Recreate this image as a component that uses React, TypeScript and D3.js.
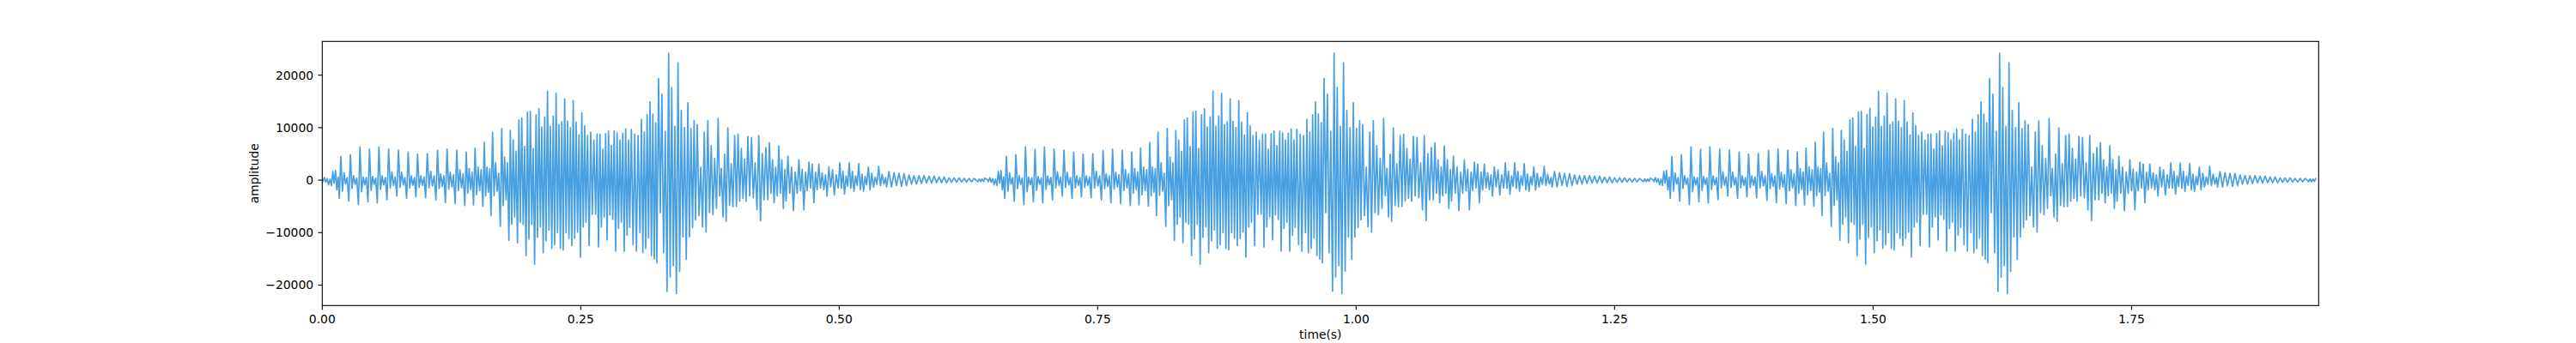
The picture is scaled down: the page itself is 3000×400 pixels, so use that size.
import React from 'react';
import * as d3 from 'd3';

// ---- data ----
const CLIP_SECONDS = 0.6437; // one utterance, repeated three times
const REPEATS = 3;
const X_MAX = 1.931;
const Y_MIN = -23890;
const Y_MAX = 26430;
const xTicks = [0, 0.25, 0.5, 0.75, 1.0, 1.25, 1.5, 1.75];
const yTicks = [-20000, -10000, 0, 10000, 20000];

// glottal pulse times within one clip (ms)
const pulseMs = [
  2.0, 10.2, 18.0, 27.2, 36.5, 45.7, 54.8, 64.2, 73.7, 83.1, 92.2, 101.6, 111.5, 120.7,
  130.1, 139.3, 147.8, 156.7, 164.7, 173.6, 181.9, 190.2, 198.5, 206.8, 215.1, 223.4,
  231.7, 240.0, 248.3, 256.6, 265.8, 274.1, 282.4, 290.7, 299.0, 308.7, 317.0, 325.3,
  335.0, 344.1, 353.6, 362.7, 372.9, 382.9, 392.3, 402.2, 411.7, 422.2, 432.5, 441.6,
  450.4, 461.0, 470.7, 480.3, 490.0, 500.6, 509.7, 518.9, 528.2, 538.2, 548.2, 562.7,
  577.2, 591.8, 606.3, 620.8, 635.4,
];

// extremes inside each pulse: [lo1, hi1, lo2, hi2, lo3, hi3]
const pulseAmps: number[][] = [
  [-300, 500, -400, 300, -900, 200],
  [-1030, 1690, -600, 1850, -1850, 600],
  [-3480, 4520, -2120, 1400, -760, 500],
  [-4030, 4840, -1600, 870, -800, 400],
  [-4680, 6310, -2230, 600, -900, 500],
  [-4140, 5880, -1960, 700, -800, 400],
  [-4350, 6310, -1800, 800, -900, 500],
  [-3750, 5930, -1500, 1600, -1000, 600],
  [-3050, 5710, -1400, 1500, -900, 500],
  [-3480, 5330, -1500, 800, -1000, 500],
  [-3210, 4950, -1400, 800, -1000, 600],
  [-3370, 5060, -1500, 1690, -1100, 800],
  [-3810, 5660, -1600, 1200, -1200, 800],
  [-4300, 5930, -1700, 1500, -1300, 1000],
  [-4460, 5710, -2000, 2000, -1500, 1200],
  [-4840, 5330, -2500, 2200, -1800, 1500],
  [-4730, 6100, -2800, 2500, -2000, 2000],
  [-4950, 7180, -3000, 2500, -2300, 2200],
  [-6750, 9140, -2940, 3320, -2120, 1300],
  [-8820, 9850, -4840, 4410, -3750, 3320],
  [-11480, 9470, -8380, 7670, -7020, 5500],
  [-11920, 11480, -8000, 11860, -8380, 6420],
  [-14370, 13000, -11210, 13100, -8380, 6040],
  [-16000, 12460, -10880, 13650, -8930, 10120],
  [-13820, 12030, -11540, 16930, -9500, 10230],
  [-13000, 12190, -12300, 16540, -10000, 10560],
  [-13000, 11100, -13280, 15460, -10000, 11210],
  [-11100, 10010, -12460, 15130, -11100, 11050],
  [-9900, 8600, -14640, 12840, -8930, 10340],
  [-8000, 8490, -12460, 9140, -6500, 7620],
  [-6500, 8760, -12740, 8760, -8930, 5880],
  [-7000, 8870, -11370, 9360, -6640, 6590],
  [-7500, 9360, -13550, 9030, -9200, 7670],
  [-8000, 8930, -13550, 9740, -10500, 7670],
  [-9000, 9690, -12300, 8760, -13550, 8490],
  [-10000, 11590, -13820, 9140, -13000, 12460],
  [-11000, 14910, -14370, 12570, -15000, 10940],
  [-15730, 19370, -6200, 16380, -13820, 9300],
  [-21170, 24160, -18450, 17630, -16270, 10230],
  [-21610, 22370, -17360, 13280, -10830, 10010],
  [-15080, 14750, -10830, 9850, -9030, 11320],
  [-7560, 10560, -6750, 2500, -8930, 9140],
  [-9900, 11320, -6200, 6590, -6590, 4140],
  [-5390, 11750, -3000, 2230, -7020, 4950],
  [-7840, 9960, -4840, 3160, -5100, 8490],
  [-5000, 8760, -4030, 6040, -3500, 4000],
  [-4030, 8330, -3000, 8110, -3370, 3320],
  [-5660, 8490, -7730, 5060, -3750, 6200],
  [-3750, 7130, -2500, 3860, -4300, 2500],
  [-3000, 6530, -2500, 3860, -5390, 2000],
  [-4000, 4570, -2500, 2500, -5820, 1500],
  [-2500, 3860, -2000, 2070, -5660, 1500],
  [-2000, 3430, -1500, 3050, -4300, 1500],
  [-1850, 3050, -1500, 1400, -1800, 1000],
  [-3050, 2500, -1300, 1960, -2830, 1000],
  [-1500, 3320, -1580, 1690, -2670, 800],
  [-1200, 3320, -1580, 1690, -2120, 800],
  [-1000, 3160, -1850, 1140, -2120, 700],
  [-900, 2500, -1850, 1300, -1300, 600],
  [-800, 2610, -1030, 1140, -760, 500],
  [-1300, 1630, -1300, 1410, -1030, 1300],
  [-1200, 1250, -1030, 980, -760, 870],
  [-760, 870, -650, 870, -540, 760],
  [-540, 760, -490, 600, -490, 600],
  [-490, 440, -400, 440, -400, 440],
  [-350, 330, -350, 330, -300, 330],
  [-300, 220, -300, 220, -250, 400],
];

const X_LABEL = 'time(s)';
const Y_LABEL = 'amplitude';

// ---- layout ----
const W = 3000;
const H = 400;
const M = { left: 375.3, right: 2700.3, top: 48.3, bottom: 356.3 };
const LINE_COLOR = '#48a0e2';
const FONT = '"DejaVu Sans", Verdana, sans-serif';
const FS = 13.89;

function buildSamples(): [number, number][] {
  const pts: [number, number][] = [];
  for (let r = 0; r < REPEATS; r++) {
    const off = r * CLIP_SECONDS;
    pts.push([off, 0]);
    pulseMs.forEach((ms, i) => {
      const t = ms / 1000;
      const next = i + 1 < pulseMs.length ? pulseMs[i + 1] / 1000 : CLIP_SECONDS;
      const T = next - t;
      pulseAmps[i].forEach((v, k) => {
        pts.push([off + t + ((k - 1) * T) / 6, v]);
      });
    });
  }
  return pts;
}

export default function App() {
  const x = d3.scaleLinear().domain([0, X_MAX]).range([M.left, M.right]);
  const y = d3.scaleLinear().domain([Y_MIN, Y_MAX]).range([M.bottom, M.top]);
  const samples = buildSamples();
  const line = d3
    .line<[number, number]>()
    .x((d) => x(d[0]))
    .y((d) => y(d[1]));
  const fx = d3.format('.2f');
  const fy = d3.format('d');
  const tickLen = 4.86;

  return (
    <svg
      width={W}
      height={H}
      style={{ position: 'absolute', left: 0, top: 0, background: '#fff' }}
      fontFamily={FONT}
    >
      <defs>
        <clipPath id="plotClip">
          <rect x={M.left} y={M.top} width={M.right - M.left} height={M.bottom - M.top} />
        </clipPath>
      </defs>
      <rect x={0} y={0} width={W} height={H} fill="#fff" />
      <g clipPath="url(#plotClip)">
        <path
          d={line(samples) || ''}
          fill="none"
          stroke={LINE_COLOR}
          strokeWidth={1.7}
          strokeLinejoin="round"
        />
      </g>
      {/* frame */}
      <rect
        x={M.left}
        y={M.top}
        width={M.right - M.left}
        height={M.bottom - M.top}
        fill="none"
        stroke="#000"
        strokeWidth={1.1}
      />
      {/* x ticks */}
      {xTicks.map((t) => (
        <g key={'x' + t}>
          <line x1={x(t)} x2={x(t)} y1={M.bottom} y2={M.bottom + tickLen} stroke="#000" strokeWidth={1.1} />
          <text x={x(t)} y={M.bottom + 21} textAnchor="middle" fontSize={FS} fill="#000">
            {fx(t)}
          </text>
        </g>
      ))}
      {/* y ticks */}
      {yTicks.map((t) => (
        <g key={'y' + t}>
          <line x1={M.left - tickLen} x2={M.left} y1={y(t)} y2={y(t)} stroke="#000" strokeWidth={1.1} />
          <text x={M.left - 2 * tickLen - 0.5} y={y(t) + 5} textAnchor="end" fontSize={FS} fill="#000">
            {fy(t)}
          </text>
        </g>
      ))}
      <text x={(M.left + M.right) / 2} y={395} textAnchor="middle" fontSize={FS} fill="#000">
        {X_LABEL}
      </text>
      <text
        transform={`translate(301, ${(M.top + M.bottom) / 2}) rotate(-90)`}
        textAnchor="middle"
        fontSize={FS}
        fill="#000"
      >
        {Y_LABEL}
      </text>
    </svg>
  );
}
